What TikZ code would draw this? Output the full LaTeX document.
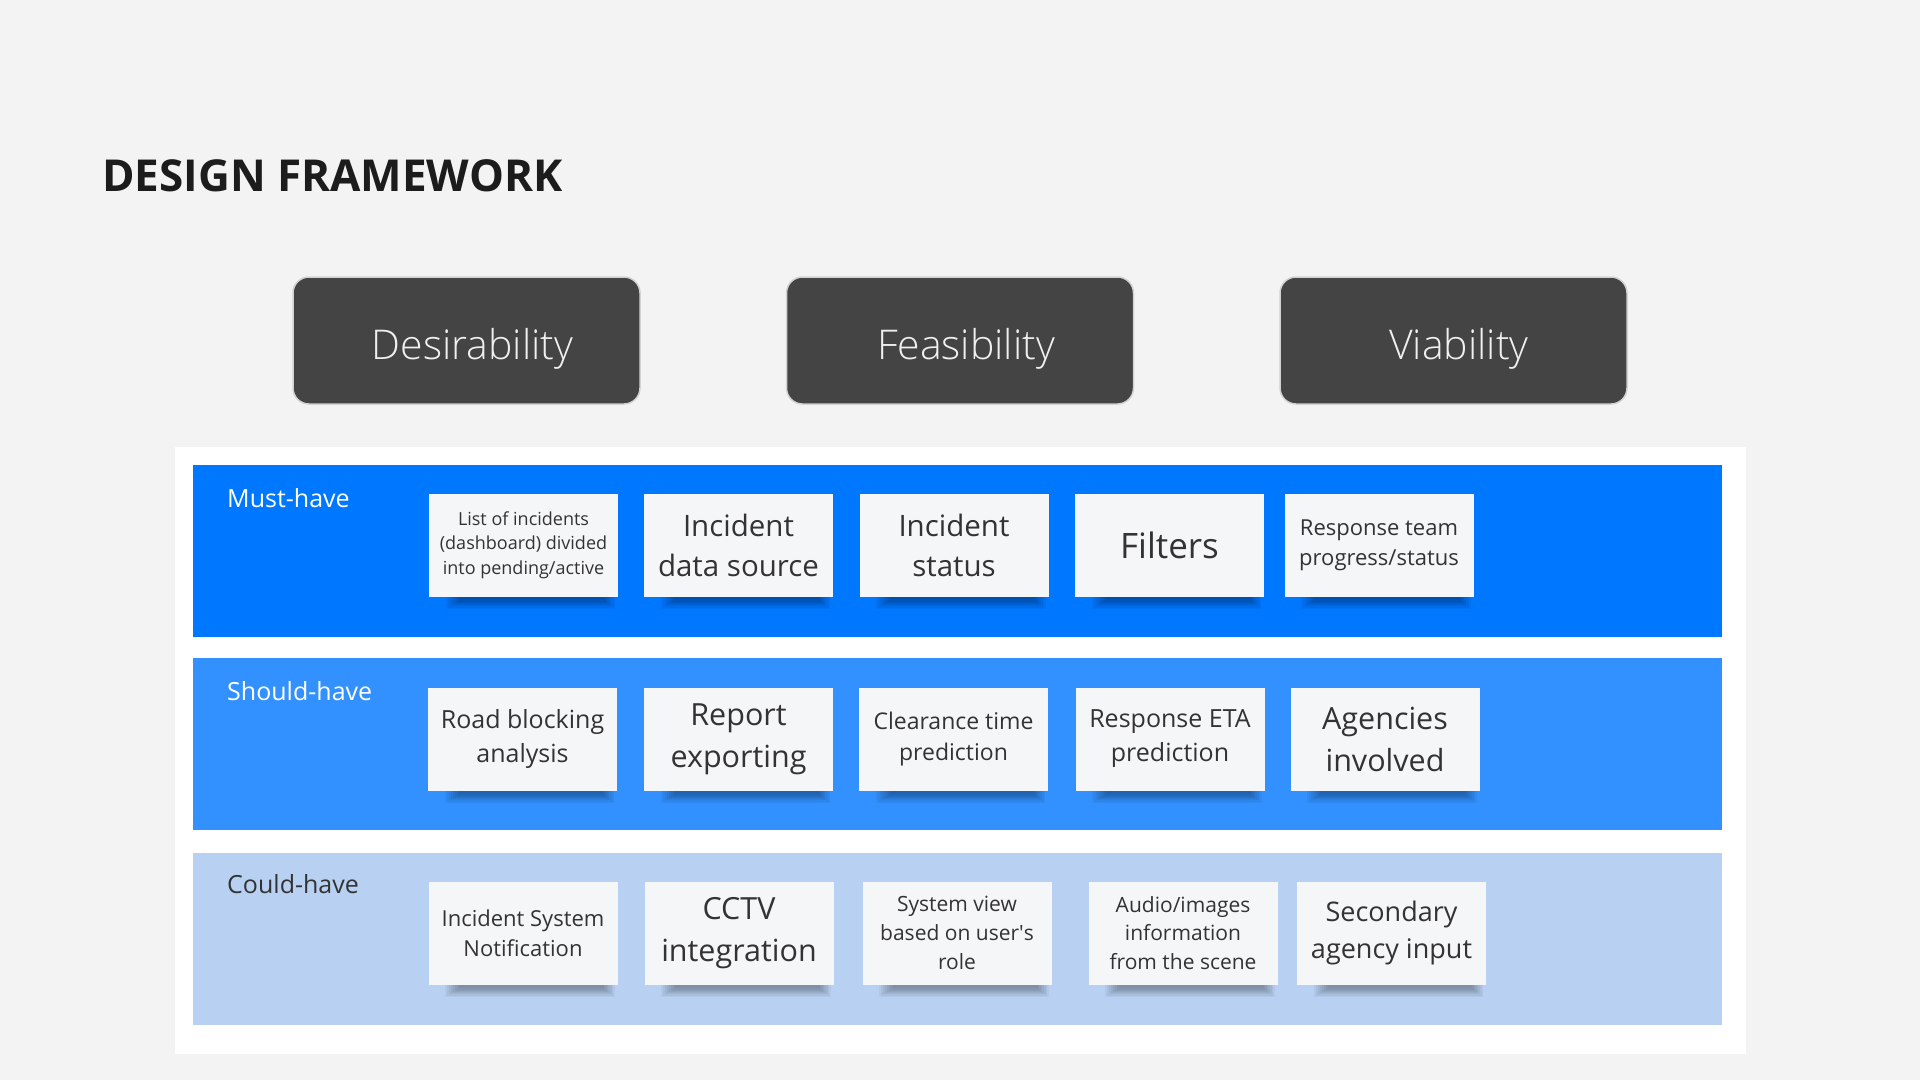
\documentclass[tikz,border=0pt]{standalone}
\usepackage{fontspec}
\setmainfont{Open Sans}
\newfontfamily\pillarfont{Open Sans Light}
\usetikzlibrary{calc}
\pgfdeclarelayer{back}
\pgfdeclarelayer{shade}
\pgfsetlayers{back,shade,main}

\definecolor{pagebg}{HTML}{F3F3F3}
\definecolor{pillar}{HTML}{444444}
\definecolor{pillaredge}{HTML}{D2D2D2}
\definecolor{mustblue}{HTML}{0077FF}
\definecolor{shouldblue}{HTML}{3391FF}
\definecolor{couldblue}{HTML}{B8D1F2}
\definecolor{notefill}{HTML}{F5F6F7}
\definecolor{ink}{HTML}{333333}
\definecolor{titleink}{HTML}{1C1C1C}

\tikzset{
  pillarbox/.style={draw=pillaredge, line width=1.5pt, fill=pillar, rounded corners=16pt,
    minimum width=347pt, minimum height=127pt, inner sep=0pt},
  pillartext/.style={text=white!94!black, font=\pillarfont\fontsize{41}{48}\selectfont, anchor=base, inner sep=0pt},
  band/.style={minimum width=1529pt, minimum height=172pt, inner sep=0pt, anchor=north west},
  bandlabel/.style={anchor=base west, inner sep=0pt, font=\fontsize{25}{30}\selectfont},
  sticky/.style={fill=notefill, minimum width=189pt, minimum height=103pt, inner sep=0pt,
    align=center, text=ink},
  fs/.style 2 args={font=\fontsize{#1}{#2}\selectfont},
}

% soft shadow under the lower edge of a sticky note
\newcommand\castshadow[1]{%
  \foreach \k in {0,...,7}{%
    \fill[black, opacity=0.045]
      ($(#1.south west)!0.09!(#1.south east)+(2*\k,-3)$) rectangle
      ($(#1.south east)+(-3-1.6*\k,12-1.2*\k)$);
  }%
}

\begin{document}
\begin{tikzpicture}[x=1pt, y=-1pt]
  \useasboundingbox (0,0) rectangle (1920,1080);

  % page, priority panel and bands
  \begin{pgfonlayer}{back}
    \fill[pagebg] (0,0) rectangle (1920,1080);
    \fill[white] (175,447) rectangle (1746,1054);
    \node[band, fill=mustblue] (must) at (193,465) {};
    \node[band, fill=shouldblue] (should) at (193,658) {};
    \node[band, fill=couldblue] (could) at (193,853) {};
  \end{pgfonlayer}

  % title
  \node[anchor=base west, inner sep=0pt, text=titleink,
        font=\fontsize{44}{52}\selectfont\bfseries] (title) at (102,191) {DESIGN FRAMEWORK};

  % three pillars
  \node[pillarbox] (des) at (466.5,340.5) {};
  \node[pillarbox] (fea) at (960,340.5) {};
  \node[pillarbox] (via) at (1453.5,340.5) {};
  \node[pillartext] (destext) at (472.5,359) {Desirability};
  \node[pillartext] (featext) at (966,359) {Feasibility};
  \node[pillartext] (viatext) at (1459,359) {Viability};

  \node[bandlabel, text=white] (mustlabel) at (227,507) {Must-have};
  \node[bandlabel, text=white] (shouldlabel) at (227,700) {Should-have};
  \node[bandlabel, text=ink] (couldlabel) at (227,893) {Could-have};

  % must-have notes
  \node[sticky, fs={18}{24.5}] (m1) at (523.5,545) {List of incidents\\(dashboard) divided\\into pending/active};
  \node[sticky, fs={29.5}{40}] (m2) at (738.5,545) {Incident\\data source};
  \node[sticky, fs={29.5}{40}] (m3) at (954,545) {Incident\\status};
  \node[sticky, fs={35}{47}] (m4) at (1169.5,545) {Filters};
  \node[sticky, fs={22}{30}] (m5) at (1379,545) {Response team\\progress/status};

  % should-have notes
  \node[sticky, fs={25}{34}] (s1) at (522.5,739) {Road blocking\\analysis};
  \node[sticky, fs={30.5}{42}] (s2) at (738.5,739) {Report\\exporting};
  \node[sticky, fs={23}{31.5}] (s3) at (953.5,739) {Clearance time\\prediction};
  \node[sticky, fs={25}{34}] (s4) at (1170,739) {Response ETA\\prediction};
  \node[sticky, fs={30.5}{42}] (s5) at (1385,739) {Agencies\\involved};

  % could-have notes
  \node[sticky, fs={22}{30}] (c1) at (523,933) {Incident System\\Notification};
  \node[sticky, fs={30.5}{42}] (c2) at (739,933) {CCTV\\integration};
  \node[sticky, fs={21}{28.7}] (c3) at (957,933) {System view\\based on user\textquotesingle s\\role};
  \node[sticky, fs={21}{28.7}] (c4) at (1183,933) {Audio/images\\information\\from the scene};
  \node[sticky, fs={27}{36.7}] (c5) at (1391.5,933) {Secondary\\agency input};

  \begin{pgfonlayer}{shade}
    \foreach \n in {m1,m2,m3,m4,m5,s1,s2,s3,s4,s5,c1,c2,c3,c4,c5}{\castshadow{\n}}
  \end{pgfonlayer}
\end{tikzpicture}
\end{document}
